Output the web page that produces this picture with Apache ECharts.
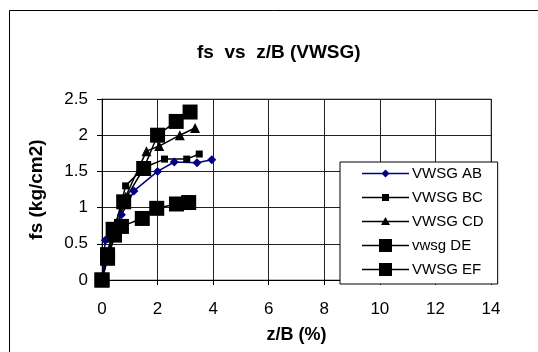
<!DOCTYPE html>
<html>
<head>
<meta charset="utf-8">
<script src="https://cdn.jsdelivr.net/npm/echarts@6/dist/echarts.min.js"></script>
<style>
  html, body { margin: 0; padding: 0; background: #fff; }
  #chart { width: 538px; height: 352px; }
</style>
</head>
<body>
<div id="chart"></div>
<script>
var names = ['VWSG AB', 'VWSG BC', 'VWSG CD', 'vwsg DE', 'VWSG EF'];

var abX = [0, 0.12, 0.7, 1.15, 2.0, 2.6, 3.42, 3.95];
var abY = [0, 0.55, 0.9, 1.23, 1.5, 1.63, 1.62, 1.66];

var bcX = [0, 0.15, 0.45, 0.85, 1.5, 2.25, 3.05, 3.5];
var bcY = [0, 0.35, 0.7, 1.3, 1.55, 1.67, 1.67, 1.74];

var cdX = [0, 0.2, 0.5, 0.85, 1.6, 2.06, 2.8, 3.35];
var cdY = [0, 0.3, 0.65, 1.15, 1.78, 1.85, 2.0, 2.1];

var deX = [0, 0.2, 0.45, 0.7, 1.45, 1.97, 2.68, 3.12];
var deY = [0, 0.35, 0.62, 0.74, 0.85, 0.99, 1.05, 1.07];

var efX = [0, 0.2, 0.4, 0.78, 1.5, 2.0, 2.67, 3.17];
var efY = [0, 0.3, 0.7, 1.08, 1.54, 2.0, 2.19, 2.32];

var xTicks = [0, 2, 4, 6, 8, 10, 12, 14];
var yTicks = [0, 0.5, 1, 1.5, 2, 2.5];

var font = 'Liberation Sans, Arial, sans-serif';

function pairs(xs, ys) {
  var out = [];
  for (var i = 0; i < xs.length; i++) out.push([xs[i], ys[i]]);
  return out;
}

// legend icons: line + marker, in a 47x14 box (corner dots fix the bbox)
var corners = 'M0 0 L0 0.01 Z M47 14 L47 13.99 Z ';
var lineBar = 'M0 6.3 H47 V7.7 H0 Z ';
var icons = [
  'path://' + corners + lineBar + 'M23.5 3 L27.5 7 L23.5 11 L19.5 7 Z',
  'path://' + corners + lineBar + 'M20 3.5 H27 V10.5 H20 Z',
  'path://' + corners + lineBar + 'M23.5 2.5 L28 10.5 L19 10.5 Z',
  'path://' + corners + lineBar + 'M17 0.5 H30 V13.5 H17 Z',
  'path://' + corners + lineBar + 'M17 0.5 H30 V13.5 H17 Z'
];

var colors = ['#000080', '#000', '#000', '#000', '#000'];
var symbols = ['diamond', 'rect', 'triangle', 'rect', 'rect'];
var sizes = [9, 7, 10, 15, 15];
var sets = [pairs(abX, abY), pairs(bcX, bcY), pairs(cdX, cdY), pairs(deX, deY), pairs(efX, efY)];

var series = [];
for (var s = 0; s < names.length; s++) {
  series.push({
    name: names[s],
    type: 'line',
    data: sets[s],
    symbol: symbols[s],
    symbolSize: sizes[s],
    showAllSymbol: true,
    animation: false,
    color: colors[s],
    itemStyle: { color: colors[s] },
    lineStyle: { color: colors[s], width: 1.5 }
  });
}

var chart = echarts.init(document.getElementById('chart'));
chart.setOption({
  animation: false,
  textStyle: { fontFamily: font },
  title: {
    text: 'fs  vs  z/B (VWSG)',
    left: 192,
    top: 38,
    textStyle: { fontFamily: font, fontSize: 19, fontWeight: 'bold', color: '#000' }
  },
  grid: {
    left: 102, right: 47, top: 99, bottom: 72,
    show: true, borderColor: '#808080', borderWidth: 1, backgroundColor: '#fff'
  },
  legend: {
    orient: 'vertical',
    left: 340,
    top: 162,
    padding: [4, 14, 7, 22],
    itemWidth: 47,
    itemHeight: 14,
    itemGap: 9,
    backgroundColor: '#fff',
    borderColor: '#000',
    borderWidth: 1,
    borderRadius: 0,
    textStyle: { fontFamily: font, fontSize: 15, color: '#000', padding: [0, 0, 0, -2] },
    data: names.map(function(n, i) {
      return { name: n, icon: icons[i], itemStyle: { color: colors[i] } };
    })
  },
  xAxis: {
    type: 'value',
    min: xTicks[0],
    max: xTicks[xTicks.length - 1],
    interval: 2,
    name: 'z/B (%)',
    nameLocation: 'middle',
    nameGap: 46,
    nameMoveOverlap: false,
    nameTextStyle: { fontFamily: font, fontSize: 18, fontWeight: 'bold', color: '#000' },
    axisLine: { lineStyle: { color: '#000', width: 1 } },
    axisTick: { show: true, inside: false, length: 5, lineStyle: { color: '#000' } },
    axisLabel: { fontFamily: font, fontSize: 17, color: '#000', margin: 21 },
    splitLine: { show: true, lineStyle: { color: '#222', width: 1 } }
  },
  yAxis: {
    type: 'value',
    min: yTicks[0],
    max: yTicks[yTicks.length - 1],
    interval: 0.5,
    name: 'fs (kg/cm2)',
    nameLocation: 'middle',
    nameGap: 56,
    nameTextStyle: { fontFamily: font, fontSize: 19, fontWeight: 'bold', color: '#000' },
    axisLine: { show: true, lineStyle: { color: '#000', width: 1 } },
    axisTick: { show: true, inside: false, length: 5, lineStyle: { color: '#000' } },
    axisLabel: { fontFamily: font, fontSize: 17, color: '#000', margin: 14 },
    splitLine: { show: true, lineStyle: { color: '#222', width: 1 } }
  },
  graphic: [
    {
      type: 'polyline',
      silent: true,
      shape: { points: [[9.5, 352], [9.5, 10.5], [538, 10.5]] },
      style: { stroke: '#000', lineWidth: 1, fill: null }
    }
  ],
  series: series
});
</script>
</body>
</html>
